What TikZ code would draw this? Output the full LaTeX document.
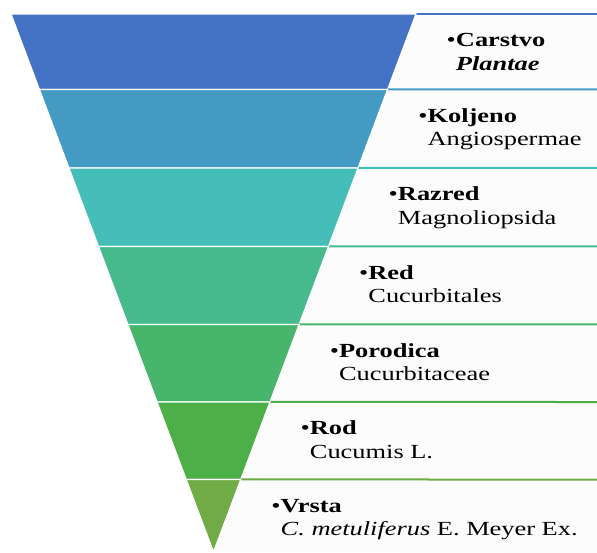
\documentclass[tikz,border=0pt]{standalone}
\usepackage{fontspec}
\setmainfont{Liberation Serif}[FakeStretch=1.32]
\usepackage{tikz}
\usetikzlibrary{positioning,calc}

\definecolor{band1}{HTML}{4472C4}
\definecolor{band2}{HTML}{439BC3}
\definecolor{band3}{HTML}{45BEB9}
\definecolor{band4}{HTML}{46BA8C}
\definecolor{band5}{HTML}{47B56A}
\definecolor{band6}{HTML}{4CAF48}
\definecolor{band7}{HTML}{70AB46}

\begin{document}
\begin{tikzpicture}[x=1pt, y=-1pt,
    rank/.style={anchor=base west, inner sep=0pt, font=\fontsize{20}{24}\selectfont},
    taxon/.style={anchor=base west, inner sep=0pt, font=\fontsize{20}{24}\selectfont}]
    \useasboundingbox (0,0) rectangle (597,553);

    % Corners of the funnel
    \coordinate (tl) at (11,14);
    \coordinate (tr) at (416,14);
    \coordinate (apex) at (213.5,552);

    % Draw panels and bands
    \foreach \i/\ya/\yb in {1/14/89.5, 2/89.5/168, 3/168/246.5, 4/246.5/324.5, 5/324.5/402, 6/402/479.5, 7/479.5/553} {
      \pgfmathsetmacro\ta{(\ya-14)/538}
      \pgfmathsetmacro\tb{min((\yb-14)/538,1)}
      \coordinate (r\i) at ($(tr)!\ta!(apex)$);

      % Panel behind the text
      \fill[black!1] (r\i) -- (597,\ya) -- (597,\yb) -- ($(tr)!\tb!(apex)$) -- cycle;
      \draw[band\i, line width=2pt] (r\i) -- (597,\ya);

      % Band of the funnel
      \filldraw[fill=band\i, draw=white, line width=1.2pt] ($(tl)!\ta!(apex)$) -- (r\i) -- ($(tr)!\tb!(apex)$) -- ($(tl)!\tb!(apex)$) -- cycle;
    }

    % Labels
    \foreach \i/\head/\txt in {1/Carstvo/{\textbf{\textit{Plantae}}}, 2/Koljeno/Angiospermae, 3/Razred/Magnoliopsida, 4/Red/Cucurbitales, 5/Porodica/Cucurbitaceae, 6/Rod/{Cucumis L.}, 7/Vrsta/{\textit{C. metuliferus} E. Meyer Ex.}} {
      \node[rank] (h\i) at ([shift={(30.5,33)}]r\i) {\textbullet\textbf{\head}};
      \node[taxon] (t\i) at ([yshift=-23.5pt]h\i.base west) {\phantom{\textbullet}\txt};
    }

\end{tikzpicture}
\end{document}
